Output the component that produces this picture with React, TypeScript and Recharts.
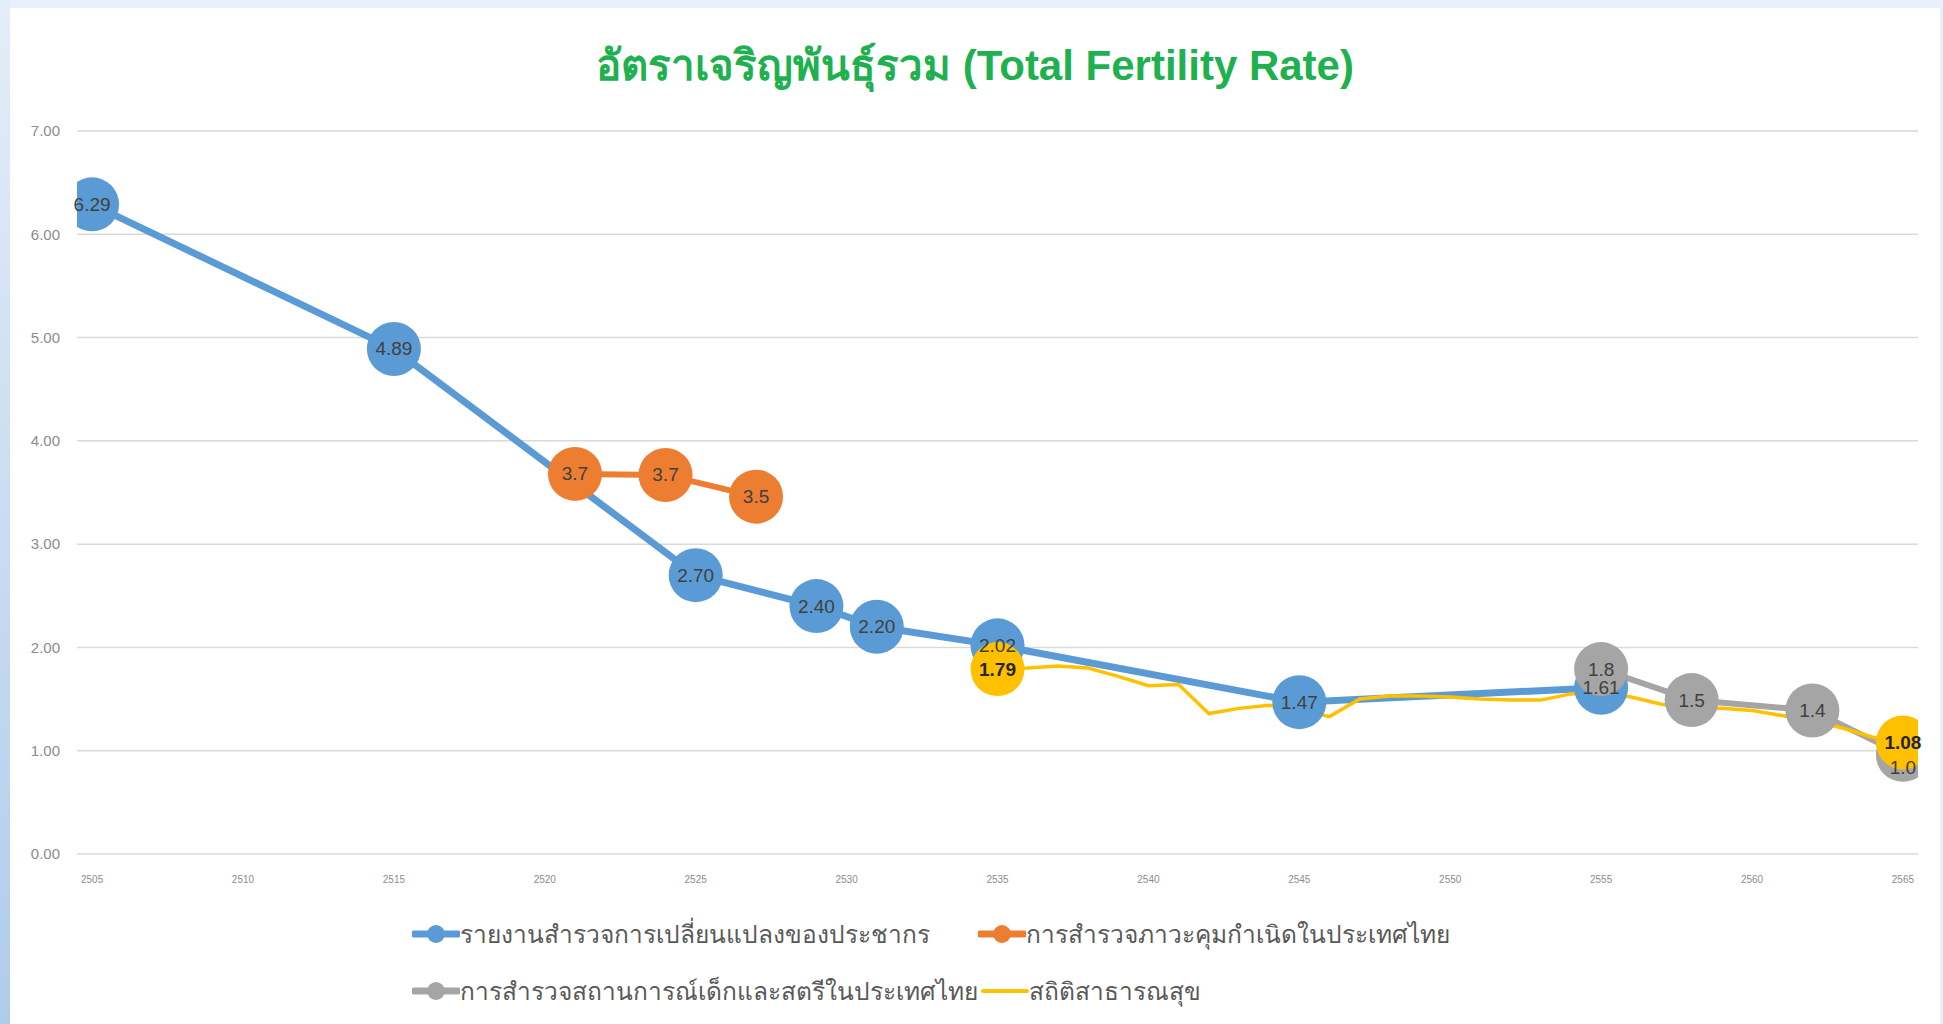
import { LineChart, Line, XAxis, YAxis, CartesianGrid, LabelList } from 'recharts'

// x axis (Thai Buddhist era years) and y axis ticks
const xTicks = [2505, 2510, 2515, 2520, 2525, 2530, 2535, 2540, 2545, 2550, 2555, 2560, 2565]
const yTicks = [0, 1, 2, 3, 4, 5, 6, 7]

// รายงานสำรวจการเปลี่ยนแปลงของประชากร
const surveyYears = [2505, 2515, 2525, 2529, 2531, 2535, 2545, 2555]
const surveyValues = [6.29, 4.89, 2.7, 2.4, 2.2, 2.02, 1.47, 1.61]

// การสำรวจภาวะคุมกำเนิดในประเทศไทย
const cpsYears = [2521, 2524, 2527]
const cpsValues = [3.68, 3.67, 3.46]

// การสำรวจสถานการณ์เด็กและสตรีในประเทศไทย
const micsYears = [2555, 2558, 2562, 2565]
const micsValues = [1.79, 1.49, 1.39, 0.96]

// สถิติสาธารณสุข
const vitalYears = [
  2535, 2536, 2537, 2538, 2539, 2540, 2541, 2542, 2543, 2544, 2545, 2546, 2547, 2548, 2549, 2550,
  2551, 2552, 2553, 2554, 2555, 2556, 2557, 2558, 2559, 2560, 2561, 2562, 2563, 2564, 2565,
]
const vitalValues = [
  1.79, 1.8, 1.82, 1.8, 1.72, 1.63, 1.64, 1.36, 1.41, 1.44, 1.4, 1.33, 1.5, 1.53, 1.53, 1.52,
  1.5, 1.49, 1.49, 1.55, 1.56, 1.52, 1.45, 1.41, 1.41, 1.39, 1.34, 1.29, 1.22, 1.13, 1.08,
]

const seriesNames = [
  'รายงานสำรวจการเปลี่ยนแปลงของประชากร',
  'การสำรวจภาวะคุมกำเนิดในประเทศไทย',
  'การสำรวจสถานการณ์เด็กและสตรีในประเทศไทย',
  'สถิติสาธารณสุข',
]

const BLUE = '#5b9bd5'
const ORANGE = '#ed7d31'
const GRAY = '#a5a5a5'
const YELLOW = '#ffc000'
const FONT = "'Liberation Sans Narrow', 'Liberation Sans', 'Noto Sans', sans-serif"

const toRows = (years: number[], values: number[]) => years.map((x, i) => ({ x, v: values[i] }))

const surveyData = toRows(surveyYears, surveyValues)
const cpsData = toRows(cpsYears, cpsValues)
const micsData = toRows(micsYears, micsValues)
const vitalData = toRows(vitalYears, vitalValues)

const R = 27

const makeLabel = (digits: number, opts: { bold?: boolean, onlyEnds?: number, lastDy?: number, count?: number } = {}) => (props: any) => {
  const { x, y, value, index } = props
  const { bold = false, onlyEnds = 0, lastDy = 0, count = 0 } = opts
  if (onlyEnds && index !== 0 && index !== onlyEnds - 1) return null
  const dy = count && index === count - 1 ? lastDy : 0
  return (
    <text
      x={x}
      y={y + dy}
      textAnchor="middle"
      dominantBaseline="central"
      fontFamily={FONT}
      fontSize={19}
      fontWeight={bold ? 700 : 400}
      fill={bold ? '#262626' : '#404040'}
    >
      {Number(value).toFixed(digits)}
    </text>
  )
}

const endDot = (props: any) => {
  const { cx, cy, index } = props
  if (index !== 0 && index !== vitalData.length - 1) return <g key={`d${index}`} />
  return <circle key={`d${index}`} cx={cx} cy={cy} r={R} fill={YELLOW} />
}

function LegendItem({ left, top, color, text, marker = true }: { left: number, top: number, color: string, text: string, marker?: boolean }) {
  return (
    <div style={{ position: 'absolute', left, top, display: 'flex', alignItems: 'center', height: 30 }}>
      <svg width={48} height={30}>
        <line x1={2} y1={15} x2={46} y2={15} stroke={color} strokeWidth={marker ? 7 : 4} strokeLinecap="round" />
        {marker && <circle cx={24} cy={15} r={9} fill={color} />}
      </svg>
      <span style={{ fontFamily: FONT, fontSize: 24.5, color: '#595959', whiteSpace: 'nowrap' }}>{text}</span>
    </div>
  )
}

export default function App() {
  return (
    <div style={{ position: 'relative', width: 1943, height: 1024, background: '#e8f0f9', overflow: 'hidden' }}>
      <style>{'body{margin:0}'}</style>
      <div style={{ position: 'absolute', left: 0, top: 0, width: 10, height: 1024, background: 'linear-gradient(to bottom, #e4edf8, #afcceb)' }} />
      <div style={{ position: 'absolute', left: 10, top: 8, width: 1930, height: 1016, background: '#ffffff' }} />

      <div style={{
        position: 'absolute', left: 0, top: 40, width: 1950, textAlign: 'center',
        fontFamily: FONT, fontSize: 42, fontWeight: 700, color: '#1fb050', lineHeight: '52px',
      }}>
        อัตราเจริญพันธุ์รวม (Total Fertility Rate)
      </div>

      <div style={{ position: 'absolute', left: 0, top: 0 }}>
        <LineChart width={1943} height={900} margin={{ top: 131, right: 25, left: 17, bottom: 16 }}>
          <CartesianGrid horizontal vertical={false} stroke="#d9d9d9" strokeWidth={1.5} />
          <XAxis
            dataKey="x"
            type="number"
            domain={[2504.5, 2565.5]}
            ticks={xTicks}
            allowDataOverflow
            axisLine={false}
            tickLine={false}
            tickMargin={16}
            height={30}
            tick={{ fill: '#8c8c8c', fontSize: 10, fontFamily: FONT }}
          />
          <YAxis
            type="number"
            domain={[0, 7]}
            ticks={yTicks}
            width={60}
            axisLine={false}
            tickLine={false}
            tickMargin={11}
            tickFormatter={(v: number) => v.toFixed(2)}
            tick={{ fill: '#8c8c8c', fontSize: 15, fontFamily: FONT }}
          />

          <Line data={surveyData} dataKey="v" name={seriesNames[0]} stroke={BLUE} strokeWidth={7}
            dot={{ r: R, fill: BLUE, stroke: 'none' }} activeDot={false} isAnimationActive={false} />
          <Line data={cpsData} dataKey="v" name={seriesNames[1]} stroke={ORANGE} strokeWidth={6}
            dot={{ r: R, fill: ORANGE, stroke: 'none' }} activeDot={false} isAnimationActive={false} />
          <Line data={micsData} dataKey="v" name={seriesNames[2]} stroke={GRAY} strokeWidth={6}
            dot={{ r: R, fill: GRAY, stroke: 'none' }} activeDot={false} isAnimationActive={false} />
          <Line data={vitalData} dataKey="v" name={seriesNames[3]} stroke={YELLOW} strokeWidth={3.5}
            dot={endDot} activeDot={false} isAnimationActive={false} />

          {/* label-only layers so every label sits above all markers */}
          <Line data={surveyData} dataKey="v" stroke="none" dot={false} activeDot={false} isAnimationActive={false}>
            <LabelList dataKey="v" content={makeLabel(2)} />
          </Line>
          <Line data={cpsData} dataKey="v" stroke="none" dot={false} activeDot={false} isAnimationActive={false}>
            <LabelList dataKey="v" content={makeLabel(1)} />
          </Line>
          <Line data={micsData} dataKey="v" stroke="none" dot={false} activeDot={false} isAnimationActive={false}>
            <LabelList dataKey="v" content={makeLabel(1, { lastDy: 13, count: micsData.length })} />
          </Line>
          <Line data={vitalData} dataKey="v" stroke="none" dot={false} activeDot={false} isAnimationActive={false}>
            <LabelList dataKey="v" content={makeLabel(2, { bold: true, onlyEnds: vitalData.length })} />
          </Line>
        </LineChart>
      </div>

      <LegendItem left={412} top={919} color={BLUE} text={seriesNames[0]} />
      <LegendItem left={978} top={919} color={ORANGE} text={seriesNames[1]} />
      <LegendItem left={412} top={976} color={GRAY} text={seriesNames[2]} />
      <LegendItem left={981} top={976} color={YELLOW} text={seriesNames[3]} marker={false} />
    </div>
  )
}
